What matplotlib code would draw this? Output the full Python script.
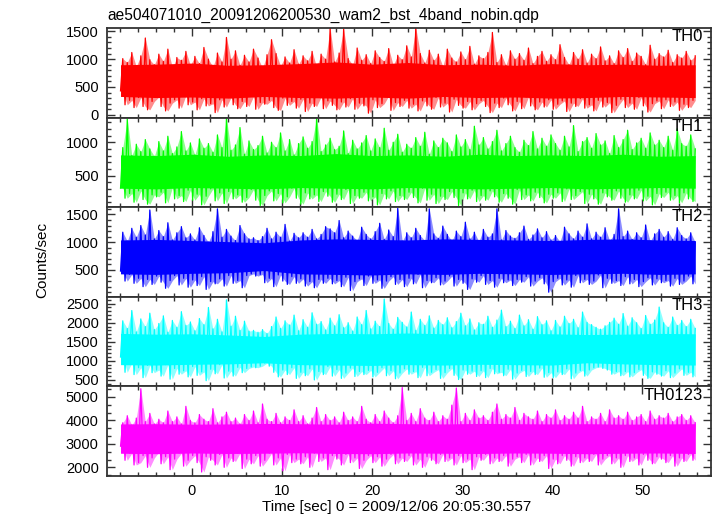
import numpy as np
import matplotlib
matplotlib.use("Agg")
import matplotlib.pyplot as plt
from matplotlib.ticker import MultipleLocator

plt.rcParams['font.family'] = ['Liberation Sans', 'DejaVu Sans']

# light curves, 0.25 s samples starting at t = -7.9 s (alternating dips and peaks)
t0 = -7.9
dt = 0.25

th0 = [
    430, 1010, 180, 940, 260, 1120, 130, 870, 310, 1060, 150, 1380, 90, 990, 240, 900,
    320, 1090, 150, 960, 70, 1180, 210, 850, 270, 1030, 120, 980, 350, 1140, 180, 890,
    230, 1050, 90, 920, 290, 1210, 160, 1000, 200, 860, 40, 1110, 270, 950, 140, 1390,
    310, 1000, 180, 1150, 110, 890, 240, 1070, 150, 950, 330, 1180, 100, 1020, 220, 840,
    190, 1080, 260, 1350, 130, 1100, 80, 880, 300, 1040, 170, 930, 240, 1170, 120, 910,
    280, 1060, 60, 970, 210, 1140, 150, 860, 320, 1090, 110, 1000, 250, 1560, 170, 950,
    90, 1110, 230, 1540, 140, 1010, 290, 900, 100, 1200, 210, 980, 160, 1080, 30, 920,
    270, 1150, 130, 1030, 200, 960, 340, 1190, 80, 890, 220, 1070, 150, 990, 260, 1240,
    120, 1040, 190, 1570, 70, 1100, 250, 930, 160, 1160, 100, 980, 310, 1090, 140, 870,
    210, 1180, 50, 1020, 280, 950, 170, 1130, 120, 990, 240, 1230, 90, 910, 200, 1060,
    260, 1010, 150, 1120, 40, 1480, 210, 940, 130, 1080, 300, 890, 180, 1150, 70, 1000,
    240, 1100, 110, 980, 320, 1200, 160, 920, 90, 1050, 230, 1140, 140, 960, 270, 1080,
    100, 990, 190, 1260, 250, 1030, 60, 900, 210, 1120, 150, 1000, 290, 1170, 120, 930,
    180, 1090, 70, 1010, 260, 1220, 140, 970, 220, 1060, 40, 920, 170, 1150, 280, 1030,
    130, 1190, 210, 960, 100, 1110, 310, 1050, 160, 900, 50, 1250, 200, 1000, 250, 1100,
    110, 1040, 270, 1160, 150, 940, 230, 1080, 80, 1020, 190, 1140, 130, 980, 260, 1060,
]

th1 = [
    310, 920, 160, 1350, 230, 800, 100, 970, 270, 860, 140, 1040, 70, 900, 210, 790,
    180, 1010, 250, 870, 90, 1090, 320, 830, 150, 930, 200, 1160, 110, 870, 280, 990,
    130, 810, 220, 1050, 60, 910, 190, 980, 300, 850, 120, 1110, 240, 920, 80, 1360,
    260, 880, 150, 960, 210, 1220, 100, 820, 170, 1020, 290, 890, 130, 950, 50, 1090,
    200, 840, 270, 1000, 120, 920, 230, 1140, 90, 870, 180, 1040, 310, 810, 160, 980,
    70, 1080, 240, 910, 150, 1010, 210, 1360, 110, 860, 260, 960, 190, 1060, 100, 890,
    220, 940, 140, 1170, 290, 830, 80, 1030, 200, 900, 160, 990, 250, 1100, 120, 870,
    180, 1050, 60, 920, 230, 1210, 150, 880, 270, 1000, 110, 1120, 200, 850, 140, 970,
    250, 910, 170, 1070, 90, 940, 310, 1150, 130, 820, 220, 1020, 80, 920, 190, 1060,
    140, 990, 260, 860, 170, 1110, 50, 930, 240, 1040, 150, 890, 280, 1240, 110, 960,
    200, 1070, 130, 900, 270, 1010, 180, 1180, 100, 870, 230, 980, 160, 1090, 70, 920,
    290, 850, 140, 1030, 210, 950, 120, 1160, 250, 900, 170, 1060, 90, 940, 220, 1110,
    160, 980, 240, 880, 110, 1090, 300, 930, 140, 1250, 200, 860, 260, 1010, 80, 1070,
    220, 910, 150, 1130, 70, 960, 240, 1020, 180, 830, 130, 1100, 270, 920, 160, 1040,
    100, 1180, 210, 890, 150, 990, 280, 1060, 120, 910, 190, 1140, 60, 960, 230, 1030,
    170, 920, 250, 1090, 130, 880, 200, 1200, 90, 980, 240, 940, 150, 1110, 110, 900,
]

th2 = [
    480, 1180, 300, 1020, 420, 1250, 260, 1090, 350, 1300, 200, 1130, 330, 1580, 240, 1060,
    390, 1210, 280, 1100, 170, 1350, 310, 1040, 400, 1170, 230, 1280, 350, 1080, 190, 1150,
    320, 1040, 220, 1260, 380, 1120, 150, 1000, 290, 1190, 250, 1600, 340, 1090, 210, 1230,
    400, 1110, 260, 1030, 310, 1300, 180, 1150, 400, 1060, 430, 1080, 390, 1030, 420, 1100,
    270, 1250, 350, 1060, 200, 1180, 410, 1090, 300, 1320, 240, 1020, 380, 1160, 260, 1080,
    340, 1170, 210, 1090, 290, 1230, 180, 1060, 330, 1140, 260, 1280, 350, 1240, 250, 1170,
    310, 1390, 200, 1080, 370, 1200, 130, 1110, 290, 1030, 340, 1270, 220, 1140, 390, 1060,
    260, 1190, 320, 1340, 170, 1050, 300, 1220, 380, 1100, 240, 1610, 330, 1020, 200, 1170,
    350, 1080, 250, 1250, 420, 1120, 180, 1030, 310, 1600, 270, 1150, 360, 1070, 230, 1290,
    300, 1140, 390, 1020, 210, 1200, 330, 1100, 260, 1360, 150, 1060, 340, 1180, 280, 1010,
    400, 1230, 240, 1090, 310, 1150, 190, 1600, 350, 1040, 270, 1210, 320, 1110, 220, 1070,
    330, 1170, 280, 1290, 380, 1050, 210, 1130, 300, 1240, 360, 1080, 250, 1190, 100, 1040,
    290, 1120, 350, 1010, 230, 1270, 320, 1150, 190, 1060, 400, 1200, 270, 1090, 330, 1330,
    240, 1060, 300, 1180, 410, 1090, 180, 1260, 350, 1030, 260, 1140, 310, 1600, 220, 1100,
    380, 1200, 250, 1050, 330, 1170, 200, 1080, 290, 1310, 360, 1020, 230, 1150, 340, 1230,
    270, 1090, 310, 1190, 210, 1050, 350, 1260, 240, 1120, 300, 1060, 390, 1170, 250, 1000,
]

th3 = [
    1100, 2050, 700, 1850, 950, 2320, 640, 1760, 820, 2100, 560, 1900, 880, 2250, 690, 1820,
    760, 1980, 600, 2180, 900, 1750, 520, 2060, 800, 1880, 650, 2290, 740, 1930, 580, 2020,
    850, 1790, 620, 2110, 710, 1950, 480, 2400, 780, 1840, 660, 2090, 900, 1760, 550, 2600,
    730, 1910, 600, 2170, 830, 1800, 690, 2040, 800, 1780, 840, 1800, 820, 1750, 860, 1820,
    940, 1720, 860, 1900, 700, 2150, 580, 1850, 760, 2050, 640, 1940, 820, 2200, 540, 1790,
    700, 2080, 610, 1880, 790, 2260, 500, 1960, 720, 2030, 640, 1810, 850, 2120, 600, 1920,
    770, 2210, 540, 1870, 680, 2000, 810, 1780, 590, 2150, 720, 1950, 640, 2320, 750, 1840,
    580, 2040, 700, 1900, 820, 2620, 610, 1980, 740, 1830, 530, 2140, 680, 2010, 790, 1890,
    650, 2280, 720, 1800, 560, 2090, 830, 1930, 610, 2180, 700, 1860, 770, 2060, 540, 1950,
    690, 2130, 800, 1870, 620, 2030, 510, 2250, 760, 1920, 650, 2100, 730, 1810, 590, 2000,
    740, 1960, 560, 2170, 800, 1880, 660, 2070, 700, 2330, 610, 1900, 780, 2040, 520, 1850,
    680, 2200, 750, 1920, 590, 2080, 720, 1830, 640, 2160, 810, 1950, 570, 2050, 690, 1790,
    560, 2060, 710, 1890, 640, 2170, 790, 1980, 530, 2090, 680, 1870, 750, 2280, 600, 2010,
    760, 1950, 820, 1880, 840, 1830, 800, 1920, 760, 2010, 650, 2120, 720, 1960, 610, 2240,
    720, 1910, 580, 2130, 690, 2000, 770, 1850, 620, 2190, 540, 1960, 710, 2070, 650, 2410,
    600, 2000, 740, 1880, 560, 2150, 680, 1930, 790, 2060, 620, 1900, 700, 2090, 580, 1850,
]

th0123 = [
    2900, 3900, 2300, 4200, 2600, 3800, 2100, 4100, 2200, 5350, 2500, 3950, 2000, 4300, 2400, 3850,
    2650, 4050, 2150, 3900, 2450, 4400, 1900, 3950, 2350, 4150, 2600, 3850, 2050, 4600, 2300, 4000,
    2500, 3900, 2200, 4250, 1800, 4050, 2450, 3950, 2300, 4500, 2100, 3900, 2550, 4150, 2000, 4350,
    2400, 3950, 2250, 4100, 2600, 3850, 1950, 4250, 2350, 4000, 2150, 4400, 2500, 3900, 2050, 4700,
    2300, 4050, 2600, 3950, 2100, 4300, 2400, 3900, 1850, 4150, 2550, 4000, 2200, 4450, 2350, 3950,
    2150, 4200, 2450, 3850, 2000, 4100, 2600, 4550, 2250, 3950, 2400, 4250, 1900, 4000, 2500, 4150,
    2350, 3900, 2100, 4350, 2550, 4000, 2200, 4150, 2400, 3950, 1950, 4600, 2300, 4050, 2500, 3900,
    2200, 4250, 2450, 3950, 2050, 4400, 2350, 4100, 2550, 3900, 2150, 4200, 2400, 5400, 2250, 4000,
    2500, 4300, 2100, 3950, 2350, 4500, 2000, 4100, 2450, 4000, 2300, 4350, 2150, 3950, 2550, 4200,
    2250, 4050, 2400, 4650, 2100, 5380, 2500, 3950, 2200, 4300, 2350, 4000, 1900, 4450, 2450, 4100,
    2300, 4200, 2550, 4000, 2150, 4350, 2400, 4700, 2250, 4050, 2500, 4250, 2050, 4100, 2350, 4550,
    2450, 4000, 2200, 4300, 2550, 4150, 2100, 4050, 2400, 4400, 2250, 3950, 2500, 4250, 1950, 4100,
    2350, 4450, 2150, 4000, 2500, 4200, 2300, 4050, 2050, 4350, 2450, 4100, 2200, 4600, 2400, 3950,
    2250, 4150, 2550, 4050, 2100, 4300, 2350, 3950, 2500, 4450, 2150, 4100, 2400, 4200, 2000, 4050,
    2500, 4350, 2250, 4000, 2400, 4150, 2100, 4250, 2550, 3950, 2300, 4400, 2150, 4050, 2450, 4200,
    2350, 4100, 2200, 4300, 2500, 3950, 2050, 4150, 2400, 4250, 2250, 4000, 2550, 4200, 2300, 3900,
]

# densely filled (unresolved) part of each curve, 17 points spread over the run
th0_core_lo = [330, 310, 320, 300, 330, 310, 300, 320, 300, 330, 310, 320, 300, 310, 330, 320, 310]
th0_core_hi = [900, 910, 930, 890, 900, 920, 950, 910, 940, 900, 910, 890, 920, 900, 910, 890, 900]
th1_core_lo = [310, 300, 320, 310, 300, 320, 310, 300, 320, 310, 300, 310, 320, 300, 310, 320, 310]
th1_core_hi = [810, 800, 820, 790, 810, 800, 830, 800, 810, 790, 820, 800, 810, 800, 820, 790, 800]
th2_core_lo = [430, 420, 440, 450, 490, 430, 420, 410, 430, 420, 440, 430, 420, 430, 440, 420, 430]
th2_core_hi = [1040, 1050, 1030, 1010, 990, 1040, 1060, 1050, 1040, 1060, 1050, 1040, 1030, 1050, 1060, 1040, 1030]
th3_core_lo = [900, 890, 910, 920, 950, 900, 890, 880, 900, 890, 910, 900, 890, 950, 920, 900, 890]
th3_core_hi = [1720, 1700, 1710, 1680, 1640, 1700, 1720, 1710, 1730, 1710, 1700, 1720, 1710, 1690, 1700, 1720, 1710]
th0123_core_lo = [2600, 2580, 2610, 2590, 2600, 2620, 2590, 2580, 2610, 2600, 2590, 2610, 2600, 2580, 2600, 2610, 2590]
th0123_core_hi = [3850, 3860, 3840, 3850, 3870, 3860, 3840, 3880, 3860, 3850, 3870, 3860, 3850, 3860, 3840, 3850, 3860]

names = ["TH0", "TH1", "TH2", "TH3", "TH0123"]
series = [th0, th1, th2, th3, th0123]
cores = [(th0_core_lo, th0_core_hi), (th1_core_lo, th1_core_hi), (th2_core_lo, th2_core_hi),
         (th3_core_lo, th3_core_hi), (th0123_core_lo, th0123_core_hi)]
colors = ["#ff0000", "#00ff00", "#0000ff", "#00ffff", "#ff00ff"]
ylims = [(-50, 1560), (25, 1370), (17, 1630), (330, 2680), (1630, 5450)]
yticks = [[0, 500, 1000, 1500], [500, 1000], [500, 1000, 1500],
          [500, 1000, 1500, 2000, 2500], [2000, 3000, 4000, 5000]]
yminor = [100, 100, 100, 100, 1000 / 3]

title = "ae504071010_20091206200530_wam2_bst_4band_nobin.qdp"
xlabel = "Time [sec] 0 = 2009/12/06 20:05:30.557"

W, H = 717, 516
fig = plt.figure(figsize=(W / 100, H / 100), dpi=100)

left, right = 107 / W, 711 / W
top, bottom = 1 - 28 / H, 1 - 476 / H
ph = (top - bottom) / 5

axes = []
for k in range(5):
    ax = fig.add_axes([left, top - (k + 1) * ph, right - left, ph])
    y = np.array(series[k], dtype=float)
    t = t0 + dt * np.arange(len(y))
    # pale fringe: span between each dip and the following peak
    ax.fill_between(t[1::2], y[0::2], y[1::2], color=colors[k], alpha=0.45, lw=0)
    core_lo, core_hi = cores[k]
    tk = np.linspace(t[0], t[-1], len(core_lo))
    ax.fill_between(tk, core_lo, core_hi, color=colors[k], lw=0)
    ax.plot(t, y, color=colors[k], lw=0.9)
    ax.set_xlim(-9.4, 57.6)
    ax.set_ylim(*ylims[k])
    ax.set_yticks(yticks[k])
    ax.yaxis.set_minor_locator(MultipleLocator(yminor[k]))
    ax.xaxis.set_major_locator(MultipleLocator(10))
    ax.xaxis.set_minor_locator(MultipleLocator(2))
    ax.tick_params(which='both', direction='in', top=True, right=True,
                   colors='#333333', labelcolor='black', labelsize=10.5, width=1.0)
    ax.tick_params(which='major', length=6)
    ax.tick_params(which='minor', length=3)
    ax.tick_params(axis='y', pad=6)
    for s in ax.spines.values():
        s.set_color('#333333')
        s.set_linewidth(1.3)
    if k < 4:
        ax.tick_params(labelbottom=False)
    ax.text(0.987, 0.985, names[k], transform=ax.transAxes, ha='right', va='top',
            fontsize=12)
    axes.append(ax)

axes[-1].set_xticks([0, 10, 20, 30, 40, 50])
axes[-1].tick_params(axis='x', pad=6)

fig.text(left, 1 - 20 / H, title, ha='left', va='baseline', fontsize=11.2)
fig.text(397 / W, 1 - 507 / H, xlabel, ha='center', va='center', fontsize=11)
fig.text(42 / W, 1 - 260 / H, "Counts/sec", ha='center', va='center',
         rotation=90, fontsize=11)

fig.savefig("out.png", dpi=100)
